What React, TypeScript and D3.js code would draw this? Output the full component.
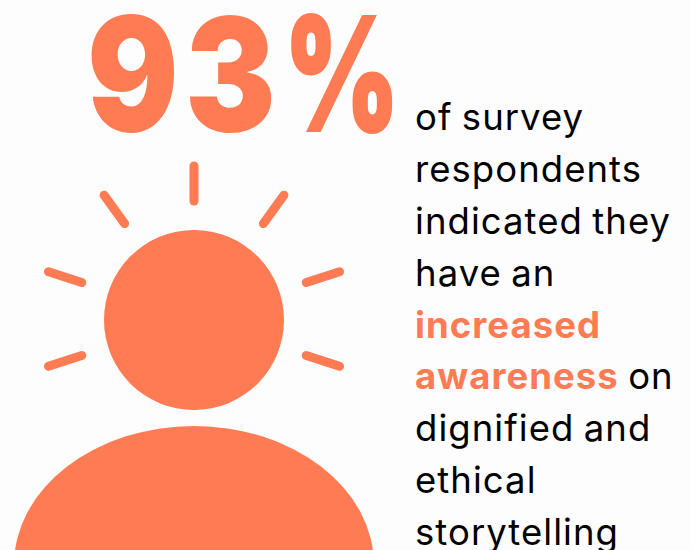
import React from "react";
import * as d3 from "d3";

const headlineGlyphs = ["9", "3", "%"];
const glyphX = [87, 185, 284];
const glyphScale = [0.86, 0.86, 0.7];
const glyphStroke = [0, 0, 2];
const lines: { t: string; hi?: boolean }[][] = [
  [{ t: "of survey" }],
  [{ t: "respondents" }],
  [{ t: "indicated they" }],
  [{ t: "have an" }],
  [{ t: "increased", hi: true }],
  [{ t: "awareness", hi: true }, { t: " on" }],
  [{ t: "dignified and" }],
  [{ t: "ethical" }],
  [{ t: "storytelling" }],
];
const rayAngles = [-90, -54, -126, -18, 18, 198, 162];
const ORANGE = "#ff7b53";

export default function App() {
  const cx = 194, cy = 319;
  const lineY = d3.scaleLinear().domain([0, 8]).range([130, 545]);
  const ray = d3.scaleLinear().domain([0, 1]).range([118, 153]);
  return (
    <svg width={691} height={550} style={{ position: "absolute", left: 0, top: 0, background: "#fdfdfd" }}>
      {headlineGlyphs.map((g, i) => (
        <text key={g} transform={`translate(${glyphX[i]},131) scale(${glyphScale[i]},1)`} fontFamily="Inter, sans-serif" fontWeight={900} fontSize={158} fill={ORANGE} stroke={ORANGE} strokeWidth={glyphStroke[i]}>{g}</text>
      ))}
      {rayAngles.map((a) => {
        const r = (a * Math.PI) / 180;
        return (
          <line key={a} x1={cx + ray(0) * Math.cos(r)} y1={cy + ray(0) * Math.sin(r)} x2={cx + ray(1) * Math.cos(r)} y2={cy + ray(1) * Math.sin(r)}
            stroke={ORANGE} strokeWidth={9} strokeLinecap="round" />
        );
      })}
      <circle cx={cx} cy={320} r={90} fill={ORANGE} />
      <ellipse cx={194} cy={565} rx={180} ry={139} fill={ORANGE} />
      {lines.map((l, i) => (
        <text key={i} x={415} y={lineY(i)} fontFamily="Inter, sans-serif" fontSize={36.5} letterSpacing={1.05} wordSpacing={-2} fill="#000">
          {l.map((p, j) => (
            <tspan key={j} fill={p.hi ? ORANGE : "#000"} fontWeight={p.hi ? 700 : 400}>{p.t}</tspan>
          ))}
        </text>
      ))}
    </svg>
  );
}
